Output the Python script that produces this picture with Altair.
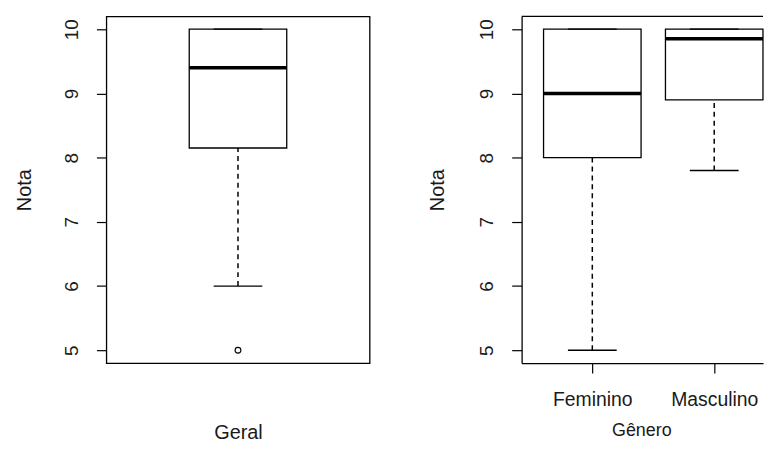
import altair as alt
import pandas as pd

# ---- data ----
# Panel 1: "Geral"
geral_pos = [1]
geral_q1 = [8.15]
geral_med = [9.4]
geral_q3 = [10.0]
geral_lo = [6.0]
geral_hi = [10.0]
geral_outliers = [5.0]

# Panel 2: by gender
groups = ["Feminino", "Masculino"]
gen_pos = [1, 2]
gen_q1 = [8.0, 8.9]
gen_med = [9.0, 9.85]
gen_q3 = [10.0, 10.0]
gen_lo = [5.0, 7.8]
gen_hi = [10.0, 10.0]

y_ticks = [5, 6, 7, 8, 9, 10]
FONT = "Liberation Sans"
TXT = "#1a1a1a"
H = 349
W_LEFT = 265
W_RIGHT = 243          # right panel is cut off by the image edge


def make_df(pos, q1, med, q3, lo, hi, half):
    return pd.DataFrame({
        "pos": pos,
        "left": [p - half for p in pos],
        "right": [p + half for p in pos],
        "capl": [p - half / 2 for p in pos],
        "capr": [p + half / 2 for p in pos],
        "q1": q1, "med": med, "q3": q3, "lo": lo, "hi": hi,
    })


def y_axis(title_x, domain):
    return alt.Axis(
        values=y_ticks, grid=False, domain=domain, domainColor="black", domainWidth=1.3,
        tickSize=10, tickColor="black",
        tickWidth=1.2, labelAngle=270, labelAlign="center", labelBaseline="alphabetic",
        labelPadding=19, labelFontSize=19, labelColor=TXT, labelFont=FONT,
        title="Nota", titleFontSize=20, titleFontWeight="normal", titleColor=TXT,
        titleFont=FONT, titleAngle=270, titleX=title_x, titleY=H / 2,
        titleAlign="center", titleBaseline="middle",
    )


def panel(df, out_vals, xdomain, xaxis, ya, W, frame_top=False):
    xs = alt.Scale(domain=xdomain, nice=False, zero=False)
    ys = alt.Scale(domain=[4.8, 10.2], nice=False, zero=False)
    base = alt.Chart(df)
    box = base.mark_rect(fill="white", stroke="black", strokeWidth=1.3).encode(
        x=alt.X("left:Q", scale=xs, axis=xaxis), x2="right:Q",
        y=alt.Y("q1:Q", scale=ys, axis=ya), y2="q3:Q")
    whisk_lo = base.mark_rule(color="black", strokeWidth=1.5, strokeDash=[5, 4]).encode(
        x=alt.X("pos:Q", scale=xs, axis=xaxis),
        y=alt.Y("lo:Q", scale=ys, axis=ya), y2="q1:Q")
    whisk_hi = base.mark_rule(color="black", strokeWidth=1.5, strokeDash=[5, 4]).encode(
        x=alt.X("pos:Q", scale=xs, axis=xaxis),
        y=alt.Y("q3:Q", scale=ys, axis=ya), y2="hi:Q")
    cap_lo = base.mark_rule(color="black", strokeWidth=1.3).encode(
        x=alt.X("capl:Q", scale=xs, axis=xaxis), x2="capr:Q",
        y=alt.Y("lo:Q", scale=ys, axis=ya))
    cap_hi = base.mark_rule(color="black", strokeWidth=1.3).encode(
        x=alt.X("capl:Q", scale=xs, axis=xaxis), x2="capr:Q",
        y=alt.Y("hi:Q", scale=ys, axis=ya))
    med = base.mark_rule(color="black", strokeWidth=3.5).encode(
        x=alt.X("left:Q", scale=xs, axis=xaxis), x2="right:Q",
        y=alt.Y("med:Q", scale=ys, axis=ya))
    layers = [box, whisk_lo, whisk_hi, cap_lo, cap_hi, med]
    if out_vals:
        odf = pd.DataFrame(out_vals)
        pts = alt.Chart(odf).mark_point(shape="circle", filled=False, color="black",
                                        size=34, strokeWidth=1.1, opacity=1).encode(
            x=alt.X("pos:Q", scale=xs, axis=xaxis),
            y=alt.Y("val:Q", scale=ys, axis=ya))
        layers.append(pts)
    if frame_top:
        top = alt.Chart(pd.DataFrame({"k": [0]})).mark_rule(
            color="black", strokeWidth=1.3).encode(y=alt.value(0))
        layers.append(top)
    return alt.layer(*layers).properties(width=W, height=H)


geral_df = make_df(geral_pos, geral_q1, geral_med, geral_q3, geral_lo, geral_hi, 0.2)
gen_df = make_df(gen_pos, gen_q1, gen_med, gen_q3, gen_lo, gen_hi, 0.4)

geral_xaxis = alt.Axis(labels=False, ticks=False, domain=False, grid=False,
                       title="Geral", titleFontSize=20, titleFontWeight="normal",
                       titleColor=TXT, titleFont=FONT, titleY=76,
                       titleBaseline="alphabetic")

label_expr = " : ".join(
    f"datum.value == {p} ? '{g}'" for p, g in zip(gen_pos[:-1], groups[:-1])
) + f" : '{groups[-1]}'"

gen_xaxis = alt.Axis(values=gen_pos, labelExpr=label_expr, grid=False,
                     domain=True, domainColor="black", domainWidth=1.3,
                     tickSize=10, tickColor="black", tickWidth=1.2,
                     labelFontSize=19.5, labelColor=TXT, labelFont=FONT,
                     labelPadding=33, labelBaseline="alphabetic", labelFlush=False,
                     labelOverlap=False,
                     title="Gênero", titleFontSize=18, titleFontWeight="normal",
                     titleColor=TXT, titleFont=FONT, titleX=120.5, titleY=73,
                     titleAlign="center", titleBaseline="alphabetic")

# px per unit in the right panel: 122.7 -> domain continues past the image edge
px_per_unit = 122.7
right_domain = [0.42, round(0.42 + W_RIGHT / px_per_unit, 4)]

left = panel(geral_df, [{"pos": p, "val": v} for p, v in zip(geral_pos, geral_outliers)],
             [0.46, 1.54], geral_xaxis, y_axis(-82, False), W_LEFT)
right = panel(gen_df, [], right_domain, gen_xaxis, y_axis(-84.5, True), W_RIGHT,
              frame_top=True).properties(view=alt.ViewBackground(stroke="transparent"))

chart = alt.hconcat(left, right, spacing=56).properties(
    padding={"left": 6, "top": 5, "right": 0, "bottom": 0},
    background="white",
).configure_view(stroke="black", strokeWidth=1.3)

chart.save("out.html", embed_options={"renderer": "svg", "actions": False})
